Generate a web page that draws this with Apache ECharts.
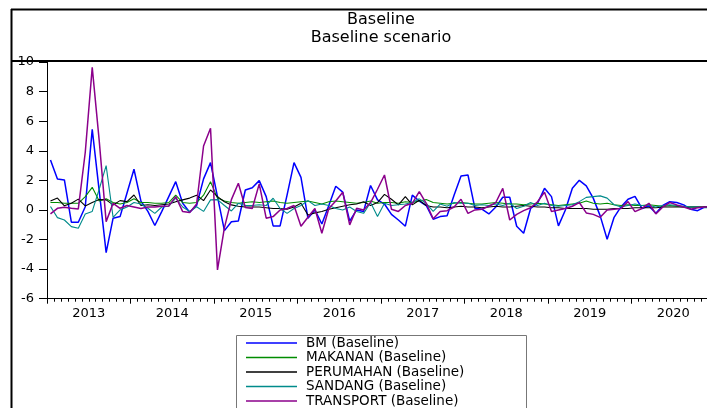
<!DOCTYPE html>
<html>
<head>
<meta charset="utf-8">
<script src="https://cdn.jsdelivr.net/npm/echarts/dist/echarts.min.js"></script>
<style>
html,body{margin:0;padding:0;background:#fff;overflow:hidden;width:707px;height:408px;}
#chart{width:762px;height:408px;}
</style>
</head>
<body>
<div id="chart"></div>
<script>
const years = [2013, 2014, 2015, 2016, 2017, 2018, 2019, 2020];
const seriesNames = ['BM (Baseline)', 'MAKANAN (Baseline)', 'PERUMAHAN (Baseline)', 'SANDANG (Baseline)', 'TRANSPORT (Baseline)'];

const bm = [
3.38, 2.09, 2.03, -0.83, -0.83, 0.22, 5.45, 1.3, -2.88, -0.56, -0.45, 1.15,
2.75, 0.6, -0.1, -1.05, -0.1, 0.9, 1.91, 0.45, -0.15, 0.3, 2.1, 3.2,
0.9, -1.4, -0.8, -0.75, 1.35, 1.5, 1.98, 0.9, -1.08, -1.08, 1.0, 3.2,
2.2, -0.56, 0.0, -0.95, 0.3, 1.6, 1.2, -0.75, 0.0, -0.1, 1.65, 0.68,
0.4, -0.3, -0.68, -1.1, 1.0, 0.6, 0.3, -0.63, -0.45, -0.4, 1.0, 2.3,
2.36, 0.11, 0.05, -0.27, 0.2, 0.86, 0.86, -1.1, -1.58, 0.1, 0.45, 1.46,
0.9, -1.08, 0.0, 1.46, 2.0, 1.63, 0.8, -0.4, -1.98, -0.5, 0.22, 0.72,
0.92, 0.1, 0.27, -0.23, 0.3, 0.56, 0.5, 0.34, 0.05, -0.05, 0.2, 0.15
];
const makanan = [
0.5, 0.5, 0.45, 0.45, 0.45, 0.9, 1.53, 0.6, 0.75, 0.5, 0.4, 0.5,
0.75, 0.5, 0.5, 0.45, 0.45, 0.5, 1.0, 0.5, 0.45, 0.5, 1.0, 1.91,
0.8, 0.6, 0.5, 0.45, 0.5, 0.55, 0.5, 0.55, 0.6, 0.5, 0.45, 0.5,
0.55, 0.6, 0.5, 0.4, 0.55, 0.6, 0.55, 0.5, 0.45, 0.5, 0.6, 0.45,
0.5, 0.5, 0.45, 0.55, 0.5, 0.6, 0.7, 0.5, 0.45, 0.4, 0.45, 0.5,
0.45, 0.4, 0.4, 0.45, 0.5, 0.45, 0.4, 0.4, 0.35, 0.4, 0.45, 0.4,
0.35, 0.3, 0.35, 0.4, 0.45, 0.6, 0.45, 0.4, 0.45, 0.35, 0.3, 0.35,
0.3, 0.3, 0.35, 0.3, 0.25, 0.3, 0.25, 0.2, 0.2, 0.2, 0.2, 0.2
];
const perumahan = [
0.6, 0.8, 0.28, 0.45, 0.73, 0.27, 0.5, 0.7, 0.68, 0.34, 0.63, 0.56,
1.01, 0.3, 0.35, 0.3, 0.35, 0.4, 0.55, 0.68, 0.8, 1.0, 0.63, 1.35,
0.9, 0.55, 0.34, 0.25, 0.2, 0.2, 0.2, 0.15, 0.1, 0.1, 0.05, 0.2,
0.45, -0.34, -0.2, -0.1, 0.05, 0.15, 0.25, 0.35, 0.4, 0.56, 0.3, 0.5,
1.05, 0.72, 0.34, 0.9, 0.34, 0.65, 0.3, 0.2, 0.2, 0.15, 0.2, 0.25,
0.2, 0.2, 0.15, 0.2, 0.25, 0.2, 0.2, 0.25, 0.3, 0.25, 0.2, 0.2,
0.15, 0.15, 0.1, 0.1, 0.1, 0.1, 0.05, 0.05, 0.05, 0.1, 0.1, 0.1,
0.15, 0.15, 0.15, 0.15, 0.2, 0.2, 0.2, 0.2, 0.2, 0.2, 0.2, 0.2
];
const sandang = [
0.23, -0.52, -0.68, -1.13, -1.24, -0.27, -0.1, 1.4, 3.0, -0.5, 0.0, 0.2,
0.5, 0.4, 0.11, -0.23, 0.2, 0.25, 0.79, 0.2, -0.11, 0.22, -0.1, 0.68,
0.7, 0.3, -0.07, 0.45, 0.3, 0.3, 0.35, 0.3, 0.79, 0.1, -0.23, 0.1,
0.3, 0.63, 0.3, 0.4, 0.3, 0.1, 0.0, 0.2, -0.1, -0.23, 0.5, -0.45,
0.45, 0.3, 0.35, 0.4, 0.5, 0.75, 0.45, -0.1, 0.4, 0.25, 0.5, 0.45,
0.45, 0.3, 0.35, 0.3, 0.4, 0.3, 0.45, 0.1, 0.25, 0.5, 0.3, 0.45,
0.3, 0.25, 0.3, 0.35, 0.56, 0.85, 0.9, 0.95, 0.8, 0.35, 0.2, 0.3,
0.4, 0.3, 0.3, 0.2, 0.3, 0.35, 0.3, 0.25, 0.2, 0.2, 0.15, 0.15
];
const transport = [
-0.27, 0.11, 0.18, 0.11, 0.07, 3.9, 9.64, 4.7, -0.79, 0.45, 0.11, 0.3,
0.2, 0.1, 0.2, 0.2, 0.25, 0.27, 0.9, -0.11, -0.18, 0.4, 4.32, 5.52,
-4.05, -1.2, 0.7, 1.8, 0.16, 0.1, 1.76, -0.56, -0.45, 0.0, 0.1, 0.3,
-1.1, -0.5, 0.1, -1.58, 0.1, 0.6, 1.2, -1.01, 0.11, 0.0, 0.5, 1.4,
2.36, 0.05, -0.1, 0.3, 0.45, 1.24, 0.45, -0.6, -0.1, -0.05, 0.2, 0.72,
-0.23, 0.0, 0.05, 0.25, 0.5, 1.46, -0.68, -0.3, -0.05, 0.15, 0.55, 1.2,
-0.1, 0.0, 0.1, 0.25, 0.5, -0.2, -0.3, -0.5, 0.0, 0.05, 0.1, 0.56,
-0.11, 0.1, 0.45, -0.27, 0.2, 0.5, 0.34, 0.2, 0.05, 0.15, 0.2, 0.2
];

const colors = ['#0000FF', '#008C00', '#000000', '#008B8B', '#8B008B'];
const widths = [1.5, 1.1, 1.1, 1.1, 1.5];
const allData = [bm, makanan, perumahan, sandang, transport];
const FONT = 'DejaVu Sans';
const nMonths = years.length * 12;

const chart = echarts.init(document.getElementById('chart'), null, {renderer: 'canvas'});

const series = allData.map((arr, k) => ({
  name: seriesNames[k],
  type: 'line',
  xAxisIndex: 0,
  yAxisIndex: 0,
  data: arr.map((v, i) => [i + 0.5, v]),
  symbol: 'none',
  showSymbol: false,
  lineStyle: {color: colors[k], width: widths[k]},
  itemStyle: {color: colors[k]},
  animation: false,
  z: 2 + k
}));

chart.setOption({
  animation: false,
  backgroundColor: '#fff',
  title: {
    text: 'Baseline',
    subtext: 'Baseline scenario',
    left: 'center',
    top: 12,
    padding: 0,
    itemGap: 2,
    textStyle: {fontFamily: FONT, fontSize: 16, fontWeight: 'normal', color: '#000'},
    subtextStyle: {fontFamily: FONT, fontSize: 16, color: '#000'}
  },
  legend: {
    data: seriesNames,
    orient: 'vertical',
    left: 246,
    top: 336,
    padding: 0,
    itemWidth: 51,
    itemHeight: 1.5,
    itemGap: 0.5,
    icon: 'rect',
    selectedMode: false,
    textStyle: {fontFamily: FONT, fontSize: 13.5, color: '#000', lineHeight: 13, padding: [0, 0, 0, 4]}
  },
  grid: {left: 47, right: 47, top: 62, height: 236.7, containLabel: false, outerBoundsMode: 'none'},
  xAxis: [
    {
      type: 'value', min: 0, max: nMonths, interval: 12, position: 'bottom',
      axisLine: {show: true, onZero: false, lineStyle: {color: '#000', width: 1}},
      axisTick: {show: true, inside: false, length: 5, lineStyle: {color: '#000', width: 1}},
      minorTick: {show: true, splitNumber: 12, length: 3, lineStyle: {color: '#000', width: 1}},
      axisLabel: {show: false},
      splitLine: {show: false}, minorSplitLine: {show: false}
    },
    {
      type: 'value', min: 0, max: nMonths, interval: 6, position: 'bottom', offset: 0,
      axisLine: {show: false}, axisTick: {show: false},
      splitLine: {show: false},
      axisLabel: {
        show: true, margin: 8, fontFamily: FONT, fontSize: 13, color: '#000',
        showMinLabel: true, showMaxLabel: true,
        formatter: function (v) {
          const idx = (v - 6) / 12;
          return (v % 12 === 6 && idx >= 0 && idx < years.length) ? String(years[idx]) : '';
        }
      }
    }
  ],
  yAxis: {
    type: 'value', min: -6, max: 10, interval: 2,
    axisLine: {show: true, onZero: false, lineStyle: {color: '#000', width: 1}},
    axisTick: {show: true, inside: false, length: 8, lineStyle: {color: '#000', width: 1}},
    axisLabel: {margin: 13, fontFamily: FONT, fontSize: 13, color: '#000'},
    splitLine: {show: false}
  },
  graphic: [
    {type: 'line', shape: {x1: 11, y1: 9.5, x2: 762, y2: 9.5}, style: {stroke: '#000', lineWidth: 2}, silent: true},
    {type: 'line', shape: {x1: 11.5, y1: 9, x2: 11.5, y2: 408}, style: {stroke: '#000', lineWidth: 2}, silent: true},
    {type: 'line', shape: {x1: 11, y1: 61, x2: 762, y2: 61}, style: {stroke: '#000', lineWidth: 2}, silent: true},
    {type: 'rect', shape: {x: 236.5, y: 335.5, width: 290, height: 100}, style: {stroke: '#777', fill: null, lineWidth: 1}, silent: true, z: -1}
  ],
  series: series
});
</script>
</body>
</html>
